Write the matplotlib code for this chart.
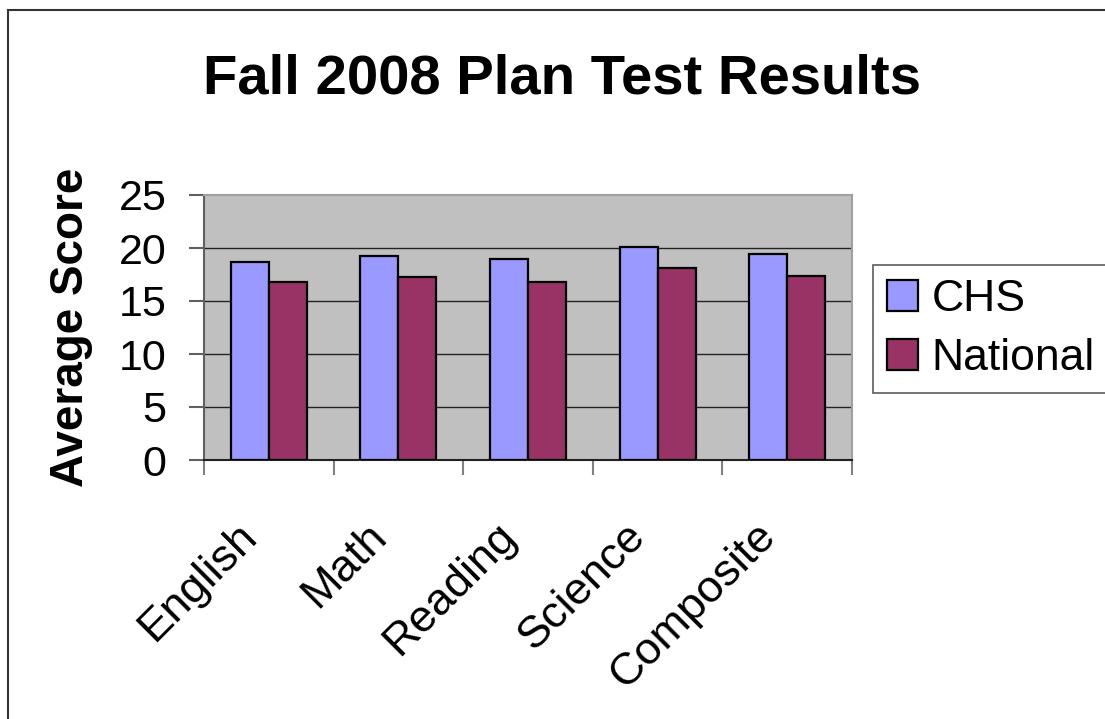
import numpy as np
import matplotlib.pyplot as plt
import matplotlib.transforms as mtransforms
from matplotlib.patches import Rectangle

plt.rcParams['font.family'] = ['Liberation Sans', 'DejaVu Sans']

# データ
subjects = ["English", "Math", "Reading", "Science", "Composite"]
chs = [18.7, 19.2, 19.0, 20.1, 19.4]
national = [16.8, 17.3, 16.8, 18.1, 17.4]
yticks = [0, 5, 10, 15, 20, 25]

W, H = 1105, 719
fig = plt.figure(figsize=(W / 100, H / 100), dpi=100)
ax = fig.add_axes([204 / W, 1 - 460 / H, 648 / W, 265 / H])
ax.set_facecolor("#C0C0C0")

x = np.arange(len(subjects))
w = 0.293
ax.bar(x - w / 2, chs, w, color="#9999FF", edgecolor="black", linewidth=1.6, label="CHS", zorder=3)
ax.bar(x + w / 2, national, w, color="#993366", edgecolor="black", linewidth=1.6, label="National", zorder=3)

ax.set_xlim(-0.5, len(subjects) - 0.5)
ax.set_ylim(0, 25)
ax.set_yticks(yticks)
ax.set_yticklabels([str(v) for v in yticks], fontsize=31)
ax.yaxis.grid(True, color="#222222", linewidth=1)
ax.get_ygridlines()[-1].set_visible(False)
ax.set_axisbelow(True)

# x軸: 区切りの目盛りとラベル
ax.set_xticks(x)
ax.set_xticklabels(subjects, fontsize=32.5, rotation=45, ha="right", va="center",
                   rotation_mode="anchor")
ax.tick_params(axis="x", which="major", length=0, pad=50)
shift = mtransforms.ScaledTranslation(-18 / 100, 0, fig.dpi_scale_trans)
for lab in ax.get_xticklabels():
    lab.set_transform(lab.get_transform() + shift)
ax.set_xticks(np.arange(-0.5, len(subjects)), minor=True)
ax.tick_params(axis="x", which="minor", length=11, width=1.5, color="#808080", direction="out")
ax.tick_params(axis="y", length=11, width=1.5, color="#606060", pad=16)

for s in ["top", "right"]:
    ax.spines[s].set_color("#A0A0A0")
    ax.spines[s].set_linewidth(1.5)
ax.spines["left"].set_color("#606060")
ax.spines["left"].set_linewidth(1.5)
ax.spines["bottom"].set_color("#222222")
ax.spines["bottom"].set_linewidth(1.5)

ax.set_ylabel("Average Score", fontsize=33, fontweight="bold")
ax.yaxis.set_label_coords(-0.172, 0.5)

fig.text(562 / W, 1 - 93 / H, "Fall 2008 Plan Test Results", fontsize=40.5,
         fontweight="bold", ha="center", va="baseline")

leg = ax.legend(loc="upper left", bbox_to_anchor=(873 / W, 1 - 265 / H),
                bbox_transform=fig.transFigure, fontsize=32, frameon=True,
                fancybox=False, handlelength=0.7, handleheight=0.7,
                handletextpad=0.3, labelspacing=0.4, borderpad=0.32,
                borderaxespad=0)
leg.get_frame().set_edgecolor("#333333")
leg.get_frame().set_linewidth(1.2)

fig.add_artist(Rectangle((8 / W, -0.05), 1.1, 1 - 10 / H + 0.05,
                         transform=fig.transFigure, fill=False,
                         edgecolor="#333333", linewidth=1.5))

fig.savefig("out.png", dpi=100)
